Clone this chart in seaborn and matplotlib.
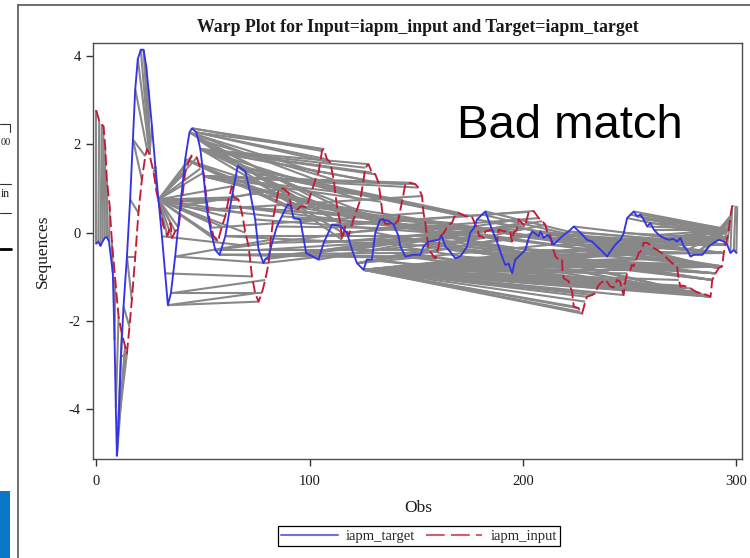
import numpy as np
import matplotlib
matplotlib.use('Agg')
import matplotlib.pyplot as plt
import seaborn as sns
from matplotlib.collections import LineCollection
from matplotlib.lines import Line2D
from matplotlib.patches import Rectangle

# iapm_target (blue), vertices
target_obs = [0, 1, 2, 3, 4, 5, 6, 7.8, 8.6, 9.2, 9.7, 10.5, 11.6, 12.8, 14.4, 15.9,
              17.2, 18.3, 19.5, 20.9, 22.2, 23.4, 24.5, 26.1, 27.7, 29.2,
              30.8, 32.3, 33.6, 35, 37, 39.4, 41.7, 43.7, 44.9, 46.9,
              47.8, 48.8, 50.3, 51.9, 53.4, 55.8, 57.8, 60.5, 62.8, 66.3,
              69.9, 72.2, 74.5, 76.1, 78.4, 79.2, 80.8, 82.4, 84.7, 87,
              89.7, 91.2, 92.5, 95.6, 98.4, 104.2, 106.6, 110.5, 114.4, 117.5,
              119.9, 122.2, 125.3, 126.8, 129.2, 130.8, 133.1, 137, 139.4, 141.7,
              142.5, 144.9, 148.8, 151.9, 153.4, 155.8, 160.5, 162, 163.6, 165.2,
              168.3, 170.6, 172.2, 173.8, 175.3, 176.9, 178.5, 180.8, 182.4, 184,
              185.5, 187.1, 188.6, 190.2, 191.7, 193.3, 194.9, 196.4, 198.8, 201.1,
              202.7, 204.3, 207.4, 208.2, 209.7, 211.3, 212.8, 214.4, 216.7, 219.1,
              221.4, 223.8, 226.9, 230, 232.4, 234.7, 237.1, 239.4, 241, 243.3,
              245.7, 247.2, 248.8, 250.4, 251.9, 253.5, 255, 256.5, 258.2, 259.7,
              261.3, 263.6, 266, 268.3, 270.5, 272.2, 273.8, 275.3, 276.9, 278.5,
              280, 281.6, 284, 285.5, 287.1, 289.4, 291.8, 294.1, 295.7, 297.2,
              298.8, 300]
target_val = [-0.25, -0.2, -0.3, -0.2, -0.12, -0.1, -0.2, -0.92, -2.43, -3.95, -5.05, -4.32, -2.81, -1.67, -0.54, 0.75,
              2.11, 3.25, 3.93, 4.14, 4.14, 3.78, 3.25, 2.42, 1.51, 0.75,
              -0.08, -0.92, -1.64, -1.37, -0.54, 0.6, 1.66, 2.27, 2.36, 2.27,
              2.11, 1.89, 1.28, 0.52, 0.11, -0.39, -0.5, -0.08, 0.6, 1.51,
              1.39, 0.9, 0.3, -0.39, -0.69, -0.6, -0.55, -0.23, 0.14, 0.37,
              0.64, 0.6, 0.33, 0.3, -0.46, -0.61, -0.23, 0.18, 0.16, 0.0,
              -0.39, -0.69, -0.84, -0.61, -0.61, 0.0, 0.3, 0.27, 0.18, -0.08,
              -0.31, -0.54, -0.5, -0.5, -0.31, -0.2, -0.16, -0.08, -0.31, -0.39,
              -0.58, -0.54, -0.43, -0.31, 0.0, 0.1, 0.3, 0.41, 0.48, 0.26,
              0.07, -0.12, -0.31, -0.54, -0.73, -0.7, -0.92, -0.61, -0.5, -0.39,
              -0.12, 0.03, -0.08, 0.03, -0.12, -0.05, -0.12, -0.27, -0.16, -0.05,
              0.03, 0.14, 0.0, -0.16, -0.2, -0.31, -0.42, -0.54, -0.42, -0.27,
              -0.16, -0.01, 0.33, 0.41, 0.48, 0.37, 0.41, 0.3, 0.14, 0.22,
              0.07, -0.05, -0.12, -0.16, -0.14, -0.2, -0.12, -0.31, -0.39, -0.54,
              -0.5, -0.5, -0.5, -0.42, -0.31, -0.23, -0.16, -0.2, -0.27, -0.46,
              -0.39, -0.46]

# iapm_input (red, dashed)
input_obs = [0, 1.4, 2.6, 3.4, 4.2, 5, 6.3, 7.3, 8.9, 10.5,
             12, 13.6, 14.4, 15.6, 16.7, 18.3, 19.8, 21.4, 23, 23.8,
             25, 26.9, 28.4, 30, 31.6, 33.4, 34.8, 35.5, 37, 38.6,
             40.2, 41.7, 43.3, 44.9, 47.2, 48.8, 50.3, 51.9, 53.4, 55,
             56, 57, 58.9, 60.5, 62, 63.6, 64.4, 66.7, 68.3, 69.9,
             71.4, 73, 74.5, 76.1, 77.6, 79.2, 80.8, 81.8, 83.1, 85.5,
             87.8, 90.1, 91.7, 94.1, 96, 98.4, 100.3, 102.7, 104.2, 105.8,
             106.6, 108.2, 109.7, 111.3, 112.8, 114.4, 115.2, 116.7, 118.3, 120.6,
             122.2, 123.8, 125.3, 126.1, 127.6, 129.2, 130.8, 132.3, 133.5, 134.5,
             135.5, 140, 141.5, 143.5, 144.9, 147.2, 149.5, 151, 152.7, 153.4,
             154.2, 155.8, 157, 158.1, 159, 160.5, 161.3, 163, 165, 166.7,
             168.3, 169.8, 173, 176, 178.5, 179.5, 180.8, 181.6, 182.4, 185.5,
             187, 187.9, 188.6, 191, 194, 194.9, 195.6, 197.2, 198, 199.5,
             201, 202.7, 205, 207.4, 209, 210.5, 211.3, 212.5, 213.6, 214.3,
             215.2, 216.7, 218.3, 218.5, 219.1, 221.4, 222.2, 223, 223.8, 226.1,
             226.9, 227.7, 229.2, 230, 232.4, 234, 235, 236.3, 238.7, 241,
             242.5, 244.1, 245.5, 246.4, 247.2, 247.8, 248.8, 250.4, 251, 251.9,
             252.7, 253.4, 254.2, 255.7, 256.5, 258.2, 259.5, 261.3, 262.8, 265,
             267.5, 269.9, 271.4, 272.2, 273, 273.8, 275.3, 278.5, 280.8, 283.2,
             286.3, 287.9, 288.7, 290.2, 291.8, 293.3, 294.1, 294.9, 295.7, 296.5,
             297.2, 298, 299.6, 300.4]
input_val = [2.77, 2.53, 2.45, 2.41, 1.96, 1.2, 0.6, -0.16, -1.07, -1.9,
             -2.28, -2.58, -2.73, -2.13, -1.52, -0.54, 0.45, 1.2, 1.73, 1.89,
             1.77, 1.36, 0.9, 0.52, 0.14, -0.08, 0.22, -0.12, 0.03, 0.11,
             0.75, 1.36, 1.6, 1.75, 1.7, 1.45, 1.36, 0.68, 0.22, -0.08,
             -0.12, -0.2, 0.14, 0.37, 0.75, 1.05, 0.8, 0.75, 0.45, 0.0,
             -0.3, -0.99, -1.37, -1.56, -1.37, -1.07, -0.69, -0.16, 0.37, 0.98,
             1.0, 0.9, 0.52, 0.52, 0.6, 0.57, 0.83, 1.2, 1.36, 1.85,
             1.89, 1.66, 1.59, 1.2, 0.6, 0.22, -0.16, 0.14, -0.08, 0.3,
             0.52, 0.75, 1.2, 1.47, 1.55, 1.36, 1.32, 1.13, 0.7, 0.3,
             0.2, 0.2, 0.27, 0.75, 1.1, 1.13, 1.1, 1.02, 0.83, 0.45,
             0.22, -0.39, -0.45, -0.54, -0.58, -0.31, -0.08, 0.0, 0.18, 0.22,
             0.41, 0.45, 0.37, 0.37, 0.1, -0.08, -0.08, -0.12, 0.03, 0.07,
             -0.1, -0.2, 0.07, 0.03, 0.03, -0.2, 0.0, 0.07, 0.3, 0.22,
             0.15, 0.47, 0.49, 0.33, 0.26, 0.18, 0.03, 0.0, -0.27, -0.39,
             -0.54, -0.61, -0.61, -0.84, -1.03, -1.1, -1.22, -1.33, -1.67, -1.71,
             -1.79, -1.83, -1.56, -1.45, -1.41, -1.37, -1.22, -1.14, -1.07, -1.22,
             -1.24, -1.07, -1.1, -1.3, -1.41, -1.14, -0.92, -0.84, -0.73, -0.76,
             -0.61, -0.58, -0.46, -0.4, -0.23, -0.23, -0.27, -0.35, -0.39, -0.46,
             -0.58, -0.69, -0.73, -0.76, -1.07, -1.22, -1.2, -1.26, -1.33, -1.37,
             -1.41, -1.45, -1.07, -0.92, -0.8, -0.76, -0.46, -0.27, -0.12, 0.07,
             0.37, 0.6, 0.61, 0.6]

# warp path: (target obs, input obs) pairs
warp_start = [(0, 0), (1, 1.4), (2, 2.6), (3, 3.4), (4, 4.2), (5, 5), (6, 6.3),
              (7.8, 7.3), (8.6, 8.9), (9.2, 10.5), (9.7, 12), (9.7, 13.6), (10.5, 13.6),
              (10.5, 14.4), (11.6, 14.4), (12.8, 15.6), (14.4, 16.7), (14.4, 18.3),
              (15.9, 19.8), (17.2, 21.4), (17.2, 23),
              (18.3, 23.8), (19.5, 25), (20.9, 25), (22.2, 25), (23.4, 25), (24.5, 25),
              (26.1, 25), (27.7, 26.9), (27.7, 28.4)]
warp_fan_left = [(29.2, 30), (29.2, 31.6), (29.2, 33.4), (29.2, 34.8), (29.2, 35.5), (29.2, 37),
                 (29.2, 38.6), (29.2, 40.2), (29.2, 41.7), (29.2, 43.3), (29.2, 44.9), (29.2, 47.2),
                 (29.2, 48.8), (29.2, 50.3), (29.2, 51.9), (29.2, 53.4), (29.2, 55), (29.2, 57),
                 (29.2, 58.9), (29.2, 60.5), (29.2, 62), (29.2, 63.6), (29.2, 64.4), (29.2, 66.7),
                 (29.2, 68.3), (29.2, 69.9)]
warp_middle = [(30.8, 71.4), (32.3, 73), (33.6, 74.5), (33.6, 76.1), (35, 77.6), (35, 79.2),
               (37, 80.8), (37, 81.8), (39.4, 83.1), (39.4, 85.5), (39.4, 87.8), (41.7, 90.1),
               (41.7, 91.7), (41.7, 94.1), (41.7, 96), (43.7, 98.4), (43.7, 100.3), (43.7, 102.7),
               (43.7, 104.2), (44.9, 105.8), (44.9, 106.6), (46.9, 106.6), (46.9, 108.2),
               (46.9, 109.7), (47.8, 111.3), (47.8, 112.8), (47.8, 114.4), (47.8, 115.2),
               (47.8, 116.7), (48.8, 118.3), (48.8, 120.6), (48.8, 122.2), (48.8, 123.8),
               (48.8, 125.3), (48.8, 126.1), (48.8, 127.6), (48.8, 129.2), (48.8, 130.8),
               (48.8, 132.3), (50.3, 133.5), (50.3, 134.5), (50.3, 135.5), (50.3, 140),
               (50.3, 141.5), (50.3, 143.5), (50.3, 144.9), (50.3, 147.2), (50.3, 149.5),
               (50.3, 151), (51.9, 152.7), (53.4, 153.4), (55.8, 154.2), (55.8, 155.8),
               (57.8, 157), (57.8, 158.1), (57.8, 159), (60.5, 160.5), (60.5, 161.3),
               (62.8, 163), (62.8, 165), (62.8, 166.7), (66.3, 168.3), (66.3, 169.8),
               (69.9, 173), (69.9, 176), (72.2, 178.5), (74.5, 179.5), (76.1, 180.8),
               (78.4, 181.6), (79.2, 182.4), (80.8, 185.5), (82.4, 187), (84.7, 188.6),
               (87, 191), (89.7, 194), (91.2, 194.9), (92.5, 195.6), (95.6, 197.2),
               (98.4, 198), (104.2, 199.5), (106.6, 201), (110.5, 202.7), (114.4, 205),
               (117.5, 207.4), (119.9, 209), (122.2, 210.5), (122.2, 211.3), (122.2, 212.5),
               (122.2, 213.6)]
warp_fan_right = [(125.3, 214.3), (125.3, 215.2), (125.3, 216.7), (125.3, 218.3), (125.3, 218.5),
                  (125.3, 219.1), (125.3, 221.4), (125.3, 222.2), (125.3, 223), (125.3, 223.8),
                  (125.3, 226.1), (125.3, 226.9), (125.3, 227.7), (125.3, 229.2), (125.3, 230),
                  (125.3, 232.4), (125.3, 234), (125.3, 235), (125.3, 236.3), (125.3, 238.7),
                  (125.3, 241), (125.3, 242.5), (125.3, 244.1), (125.3, 245.5), (125.3, 246.4),
                  (125.3, 247.2), (125.3, 247.8), (125.3, 248.8), (125.3, 250.4), (125.3, 251),
                  (125.3, 251.9), (125.3, 252.7), (125.3, 253.4), (125.3, 254.2), (125.3, 255.7),
                  (125.3, 256.5), (125.3, 258.2), (125.3, 259.5), (125.3, 261.3), (125.3, 262.8),
                  (125.3, 265), (125.3, 267.5), (125.3, 269.9), (125.3, 271.4), (125.3, 272.2),
                  (125.3, 273), (125.3, 273.8), (125.3, 275.3), (125.3, 278.5), (125.3, 280.8),
                  (125.3, 283.2), (125.3, 286.3), (125.3, 287.9)]
warp_end = [(126.8, 287.9), (129.2, 287.9), (130.8, 287.9), (133.1, 287.9), (137, 287.9),
            (139.4, 287.9), (141.7, 287.9), (142.5, 287.9), (144.9, 287.9), (148.8, 287.9),
            (151.9, 287.9), (153.4, 288.7), (155.8, 288.7), (160.5, 288.7), (162, 288.7),
            (163.6, 288.7), (165.2, 290.2), (168.3, 290.2), (170.6, 290.2), (172.2, 290.2),
            (173.8, 290.2), (175.3, 291.8), (176.9, 291.8), (178.5, 291.8), (180.8, 291.8),
            (182.4, 291.8), (184, 291.8), (185.5, 293.3), (187.1, 293.3), (188.6, 293.3),
            (190.2, 293.3), (191.7, 293.3), (193.3, 293.3), (194.9, 293.3), (196.4, 293.3),
            (198.8, 294.1), (201.1, 294.1), (202.7, 294.1), (204.3, 294.1), (207.4, 294.1),
            (208.2, 294.1), (209.7, 294.1), (211.3, 294.9), (212.8, 294.9), (214.4, 294.9),
            (216.7, 294.9), (219.1, 294.9), (221.4, 294.9), (223.8, 294.9), (226.9, 294.9),
            (230, 295.7), (232.4, 295.7), (234.7, 295.7), (237.1, 295.7), (239.4, 295.7),
            (241, 295.7), (243.3, 295.7), (245.7, 295.7), (247.2, 295.7), (248.8, 295.7),
            (250.4, 295.7), (251.9, 296.5), (253.5, 296.5), (255, 296.5), (256.5, 296.5),
            (258.2, 296.5), (259.7, 296.5), (261.3, 296.5), (263.6, 296.5), (266, 296.5),
            (268.3, 296.5), (270.5, 296.5), (272.2, 296.5), (273.8, 296.5), (275.3, 296.5),
            (276.9, 296.5), (278.5, 296.5), (280, 296.5), (281.6, 297.2), (284, 297.2),
            (285.5, 297.2), (287.1, 297.2), (289.4, 297.2), (291.8, 297.2), (294.1, 297.2),
            (295.7, 297.2), (297.2, 298), (298.8, 299.6), (300, 300.4)]

x_ticks = [0, 100, 200, 300]
y_ticks = [-4, -2, 0, 2, 4]

BLUE = '#3434e6'
RED = '#c41a35'
GRAY = '#888888'

sns.set_theme(style='ticks')
plt.rcParams['font.family'] = ['Liberation Serif', 'DejaVu Serif']
plt.rcParams['axes.unicode_minus'] = False

W, H = 750, 558
fig = plt.figure(figsize=(7.5, 5.58), dpi=100)
ax = fig.add_axes([92.7 / W, 1 - 459.3 / H, (741.7 - 92.7) / W, (459.3 - 43.3) / H])

t_obs = np.array(target_obs)
t_val = np.array(target_val)
i_obs = np.array(input_obs)
i_val = np.array(input_val)


def nearest(arr, v):
    return int(np.abs(arr - v).argmin())


# gray warp lines between matched points
segs = []
for a, b in warp_start + warp_fan_left + warp_middle + warp_fan_right + warp_end:
    ti = nearest(t_obs, a)
    ii = nearest(i_obs, b)
    segs.append([(t_obs[ti], t_val[ti]), (i_obs[ii], i_val[ii])])
ax.add_collection(LineCollection(segs, colors=GRAY, linewidths=1.5, zorder=1))

sns.lineplot(x=input_obs, y=input_val, sort=False, estimator=None, color=RED,
             linewidth=1.35, linestyle=(0, (6, 2.2)), ax=ax, zorder=2)
sns.lineplot(x=target_obs, y=target_val, sort=False, estimator=None, color=BLUE,
             linewidth=1.35, ax=ax, zorder=3)

ax.set_xlim(-1.64, 302.5)
ax.set_ylim(-5.127, 4.285)
ax.set_xticks(x_ticks)
ax.set_yticks(y_ticks)
ax.set_xlabel('')
ax.set_ylabel('')
ax.tick_params(axis='both', labelsize=10.5, length=5, width=1, color='#333333',
               labelcolor='#1a1a1a', direction='out')
ax.tick_params(axis='x', pad=6.5)
ax.tick_params(axis='y', pad=3.5)
for s in ax.spines.values():
    s.set_color('#4d4d4d')
    s.set_linewidth(1.0)
    s.set_visible(True)

fig.text(417.5 / W, 1 - 27 / H, 'Warp Plot for Input=iapm_input and Target=iapm_target',
         ha='center', va='center', fontsize=12.8, fontweight='bold', color='#1a1a1a')
fig.text(418 / W, 1 - 508 / H, 'Obs', ha='center', va='center', fontsize=12.5, color='#1a1a1a')
fig.text(42.5 / W, 1 - 251 / H, 'Sequences', ha='center', va='center', rotation=90,
         fontsize=12.5, color='#1a1a1a')

# overlaid slide text
fig.text(457 / W, 1 - 138 / H, 'Bad match', ha='left', va='baseline', fontsize=34,
         family=['Liberation Sans', 'DejaVu Sans'], color='black')

handles = [Line2D([], [], color=BLUE, lw=1.5, alpha=0.7),
           Line2D([], [], color=RED, lw=1.5, alpha=0.7, linestyle=(0, (9, 3)))]
leg = ax.legend(handles, ['iapm_target', 'iapm_input'], ncol=2, loc='center',
                bbox_to_anchor=(419 / W, 1 - 536 / H), bbox_transform=fig.transFigure,
                fontsize=10.5, frameon=True, fancybox=False, framealpha=1,
                handlelength=3.9, handletextpad=0.55, columnspacing=0.7,
                borderpad=0.22, borderaxespad=0)
leg.get_frame().set_edgecolor('black')
leg.get_frame().set_linewidth(0.9)

# slide frame and cut-off neighbour graphic on the left edge
fx = 17.5 / W
fy = 1 - 5 / H
fig.add_artist(Line2D([fx, fx], [0, fy], transform=fig.transFigure, color='#555555', lw=1.2))
fig.add_artist(Line2D([fx, 1], [fy, fy], transform=fig.transFigure, color='#555555', lw=1.2))
fig.add_artist(Line2D([0, 10 / W], [1 - 124 / H, 1 - 124 / H], transform=fig.transFigure,
                      color='#333333', lw=0.8))
fig.add_artist(Line2D([10 / W, 10 / W], [1 - 124 / H, 1 - 132 / H], transform=fig.transFigure,
                      color='#333333', lw=0.8))
fig.add_artist(Line2D([0, 11 / W], [1 - 184 / H, 1 - 184 / H], transform=fig.transFigure,
                      color='#333333', lw=0.8))
fig.add_artist(Line2D([0, 11 / W], [1 - 213 / H, 1 - 213 / H], transform=fig.transFigure,
                      color='#333333', lw=0.8))
fig.add_artist(Line2D([0, 11 / W], [1 - 249 / H, 1 - 249 / H], transform=fig.transFigure,
                      color='black', lw=2.0))
fig.add_artist(Rectangle((0, 0), 10 / W, 67 / H, transform=fig.transFigure,
                         facecolor='#0a78c8', edgecolor='none'))
fig.text(0.5 / W, 1 - 143 / H, '00', ha='left', va='center', fontsize=7.5, color='#1a1a1a')
fig.text(1 / W, 1 - 194 / H, 'in', ha='left', va='center', fontsize=8.5, color='#1a1a1a')

fig.savefig('out.png', dpi=100)
